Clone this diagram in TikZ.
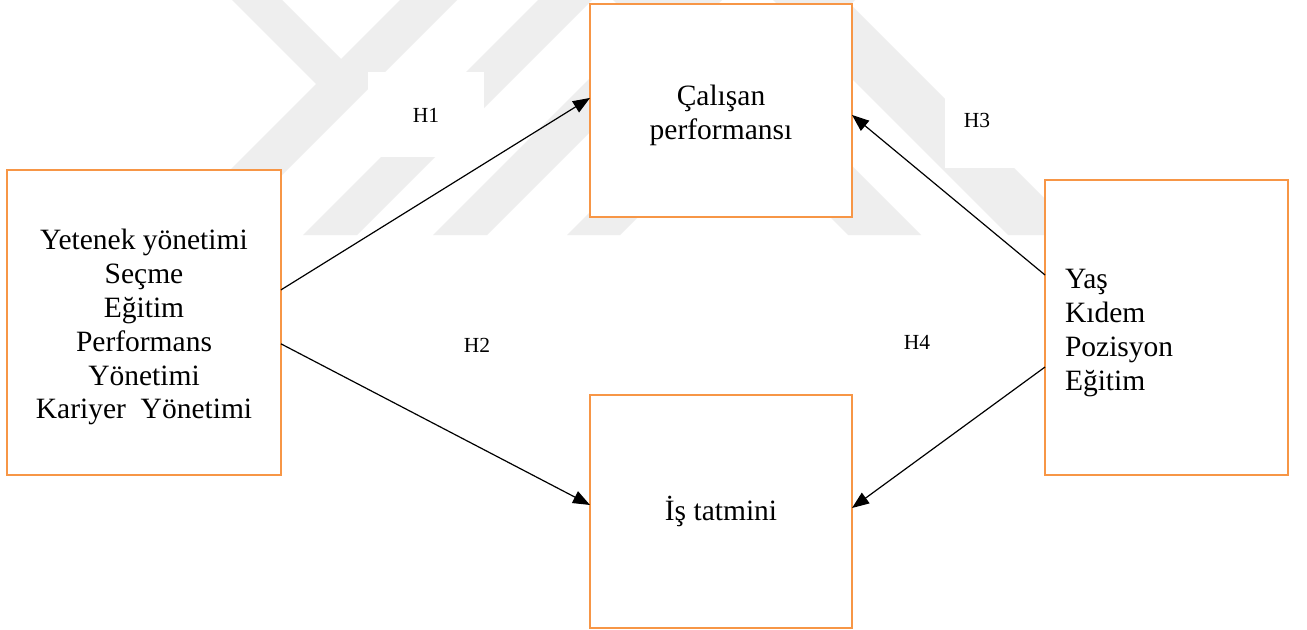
\documentclass[tikz,border=0pt]{standalone}
\usepackage{fontspec}
\setmainfont{Liberation Serif}
\usetikzlibrary{arrows.meta,calc}
\definecolor{boxorange}{RGB}{247,150,70}
\definecolor{wmgray}{RGB}{238,238,238}
% extra room above the first line of a box text, to set the block a little lower
\newcommand{\firstlinegap}{\rule{0pt}{30bp}}
\begin{document}
\begin{tikzpicture}[x=1bp,y=-1bp,
  every node/.style={inner sep=0pt, outer sep=0pt},
  framebox/.style={draw=boxorange, line width=2.5bp, fill=white,
    font=\fontsize{29.5bp}{33.8bp}\selectfont},
  panel/.style={fill=white, minimum width=116bp, minimum height=85bp},
  hlabel/.style={font=\fontsize{21.5bp}{25bp}\selectfont},
  link/.style={line width=1.2bp, -{Triangle[length=17bp,width=13bp]}}]
\useasboundingbox (0,0) rectangle (1307,630);
\fill[white] (0,0) rectangle (1307,630);

% faint emblem in the background
\begin{scope}
  \clip (0,0) rectangle (1307,235);
  \fill[wmgray] (232,0) -- (282,0) -- (341,59) -- (400,0) -- (457,0)
    -- (222,235) -- (165,235) -- (316,84) -- cycle;
  \fill[wmgray] (538,0) -- (592,0) -- (357,235) -- (303,235) -- cycle;
  \fill[wmgray] (668,0) -- (722,0) -- (487,235) -- (433,235) -- cycle;
  \fill[wmgray] (802,0) -- (855,0) -- (620,235) -- (567,235) -- cycle;
  \fill[wmgray] (613,0) -- (686,0) -- (921,235) -- (848,235) -- cycle;
  \fill[wmgray] (773,0) -- (846,0) -- (1081,235) -- (1008,235) -- cycle;
\end{scope}

% white panels behind two of the hypothesis labels
\node[panel] (h1panel) at (426,114.5) {};
\node[panel] (h3panel) at (1003,125.5) {};

% boxes
\node[framebox, minimum width=274bp, minimum height=305bp, align=center]
  (talent) at (144,322.5)
  {\firstlinegap Yetenek yönetimi\\Seçme\\Eğitim\\Performans\\Yönetimi\\Kariyer\ \ Yönetimi};
\node[framebox, minimum width=262bp, minimum height=213bp, align=center]
  (perf) at (721,110.5) {\firstlinegap Çalışan\\performansı};
\node[framebox, minimum width=262bp, minimum height=233bp, align=center]
  (satis) at (721,511.5) {İş tatmini};
\node[framebox, minimum height=295bp, inner xsep=20bp, text width=203bp, align=left]
  (demo) at (1166.5,327.5) {\firstlinegap Yaş\\Kıdem\\Pozisyon\\Eğitim};

% hypothesis labels
\node[hlabel] (h1) at (426,115) {H1};
\node[hlabel] (h2) at (477,345) {H2};
\node[hlabel] (h3) at (977,120) {H3};
\node[hlabel] (h4) at (917,342) {H4};

% hypothesised paths
\draw[link] ($(talent.north east)!0.393!(talent.south east)$)
  -- ($(perf.north west)!0.441!(perf.south west)$);
\draw[link] ($(talent.north east)!0.570!(talent.south east)$)
  -- ($(satis.north west)!0.472!(satis.south west)$);
\draw[link] ($(demo.north west)!0.322!(demo.south west)$)
  -- ($(perf.north east)!0.521!(perf.south east)$);
\draw[link] ($(demo.north west)!0.634!(demo.south west)$)
  -- ($(satis.north east)!0.485!(satis.south east)$);
\end{tikzpicture}
\end{document}
